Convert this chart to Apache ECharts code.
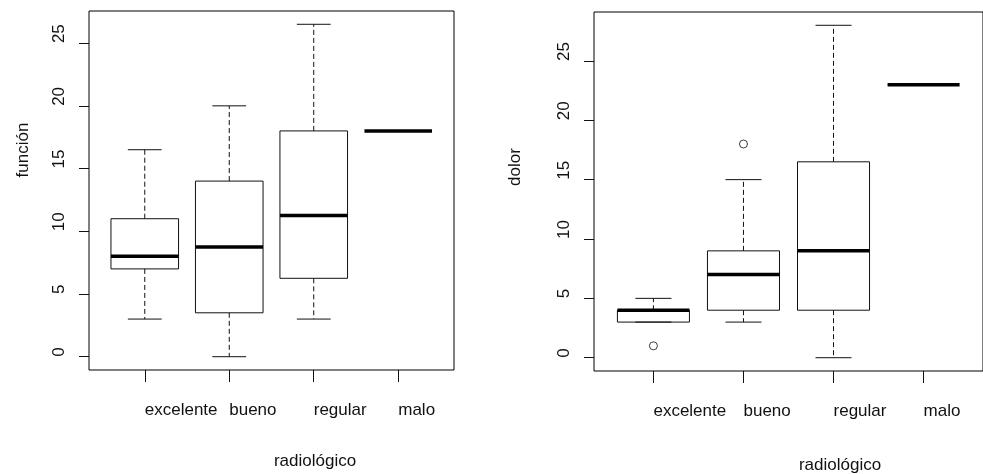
<!DOCTYPE html>
<html>
<head>
<meta charset="utf-8">
<script src="https://cdn.jsdelivr.net/npm/echarts@6/dist/echarts.min.js"></script>
<style>
  html, body { margin: 0; padding: 0; background: #fff; }
  #chart { width: 983px; height: 474px; }
</style>
</head>
<body>
<div id="chart"></div>
<script>
// categorías del eje x
const categories = ['excelente', 'bueno', 'regular', 'malo']
const yTicks = [0, 5, 10, 15, 20, 25]

// [x, mínimo, Q1, mediana, Q3, máximo]
const funcionBoxes = [
  [1, 3, 7, 8, 11, 16.5],
  [2, 0, 3.5, 8.75, 14, 20],
  [3, 3, 6.25, 11.25, 18, 26.5],
  [4, 18, 18, 18, 18, 18],
]
const funcionOutliers = []

const dolorBoxes = [
  [1, 3, 3, 4, 4, 5],
  [2, 3, 4, 7, 9, 15],
  [3, 0, 4, 9, 16.5, 28],
  [4, 23, 23, 23, 23, 23],
]
// [x, valor]
const dolorOutliers = [
  [1, 1],
  [2, 18],
]

const FONT = "'Liberation Sans', Arial, sans-serif"
const INK = '#111'

// dibuja una caja estilo R: caja, mediana gruesa, bigotes discontinuos
const renderBox = (params, api) => {
  const x = api.value(0)
  const lo = api.value(1)
  const q1 = api.value(2)
  const med = api.value(3)
  const q3 = api.value(4)
  const hi = api.value(5)

  const left = api.coord([x - 0.4, med])[0]
  const right = api.coord([x + 0.4, med])[0]
  const capL = api.coord([x - 0.2, med])[0]
  const capR = api.coord([x + 0.2, med])[0]
  const cx = api.coord([x, med])[0]
  const yLo = api.coord([x, lo])[1]
  const yQ1 = api.coord([x, q1])[1]
  const yMed = api.coord([x, med])[1]
  const yQ3 = api.coord([x, q3])[1]
  const yHi = api.coord([x, hi])[1]

  const thin = { stroke: INK, lineWidth: 1, fill: null }
  const dashed = { stroke: INK, lineWidth: 1, lineDash: [5, 3] }

  const children = []

  if (hi > q3) {
    children.push({ type: 'line', shape: { x1: cx, y1: yQ3, x2: cx, y2: yHi }, style: dashed })
    children.push({ type: 'line', shape: { x1: capL, y1: yHi, x2: capR, y2: yHi }, style: thin })
  }
  if (lo < q1) {
    children.push({ type: 'line', shape: { x1: cx, y1: yQ1, x2: cx, y2: yLo }, style: dashed })
  }
  if (lo <= q1 && q3 > q1) {
    children.push({ type: 'line', shape: { x1: capL, y1: yLo, x2: capR, y2: yLo }, style: thin })
  }
  if (q3 > q1) {
    children.push({
      type: 'rect',
      shape: { x: left, y: yQ3, width: right - left, height: yQ1 - yQ3 },
      style: thin,
    })
  }
  children.push({
    type: 'line',
    shape: { x1: left, y1: yMed, x2: right, y2: yMed },
    style: { stroke: '#000', lineWidth: 3.5 },
  })

  return { type: 'group', children }
}

const xAxisFor = (gridIndex) => ({
  type: 'value',
  gridIndex,
  min: 0.34,
  max: 4.66,
  splitLine: { show: false },
  axisLine: { show: false, onZero: false },
  axisTick: {
    show: true,
    customValues: [1, 2, 3, 4],
    length: 12,
    lineStyle: { color: INK, width: 1 },
  },
  axisLabel: {
    customValues: [1, 2, 3, 4],
    formatter: (v) => categories[Math.round(v) - 1] || '',
    align: 'left',
    margin: 32,
    color: INK,
    fontFamily: FONT,
    fontSize: 17,
  },
})

const yAxisFor = (gridIndex, min, max) => ({
  type: 'value',
  gridIndex,
  min,
  max,
  splitLine: { show: false },
  axisLine: { show: false, onZero: false },
  axisTick: {
    show: true,
    customValues: yTicks,
    length: 10,
    lineStyle: { color: INK, width: 1 },
  },
  axisLabel: {
    customValues: yTicks,
    rotate: 90,
    align: 'left',
    margin: 21,
    color: INK,
    fontFamily: FONT,
    fontSize: 17,
  },
})

const textEl = (text, x, y, rotation) => ({
  type: 'text',
  x,
  y,
  rotation: rotation || 0,
  style: {
    text,
    fill: INK,
    font: `17px ${FONT}`,
    textAlign: 'center',
    textVerticalAlign: 'middle',
  },
})

const outlierSeries = (idx, data) => ({
  type: 'scatter',
  xAxisIndex: idx,
  yAxisIndex: idx,
  symbol: 'circle',
  symbolSize: 8,
  itemStyle: { color: 'transparent', borderColor: INK, borderWidth: 1 },
  data,
})

const chart = echarts.init(document.getElementById('chart'), null, { renderer: 'canvas' })

chart.setOption({
  animation: false,
  backgroundColor: '#fff',
  grid: [
    { left: 89, top: 11, width: 365, height: 359, show: true, borderColor: '#000', borderWidth: 1, backgroundColor: 'transparent' },
    { left: 594, top: 12, width: 397, height: 359, show: true, borderColor: '#000', borderWidth: 1, backgroundColor: 'transparent' },
  ],
  xAxis: [xAxisFor(0), xAxisFor(1)],
  yAxis: [yAxisFor(0, -1.06, 27.56), yAxisFor(1, -1.12, 29.12)],
  series: [
    {
      type: 'custom',
      xAxisIndex: 0,
      yAxisIndex: 0,
      renderItem: renderBox,
      encode: { x: 0, y: [1, 2, 3, 4, 5] },
      data: funcionBoxes,
    },
    outlierSeries(0, funcionOutliers),
    {
      type: 'custom',
      xAxisIndex: 1,
      yAxisIndex: 1,
      renderItem: renderBox,
      encode: { x: 0, y: [1, 2, 3, 4, 5] },
      data: dolorBoxes,
    },
    outlierSeries(1, dolorOutliers),
  ],
  graphic: [
    textEl('función', 23, 150, Math.PI / 2),
    textEl('radiológico', 315, 461),
    textEl('dolor', 515, 167, Math.PI / 2),
    textEl('radiológico', 840, 465),
  ],
})

window.addEventListener('resize', () => chart.resize())
</script>
</body>
</html>
